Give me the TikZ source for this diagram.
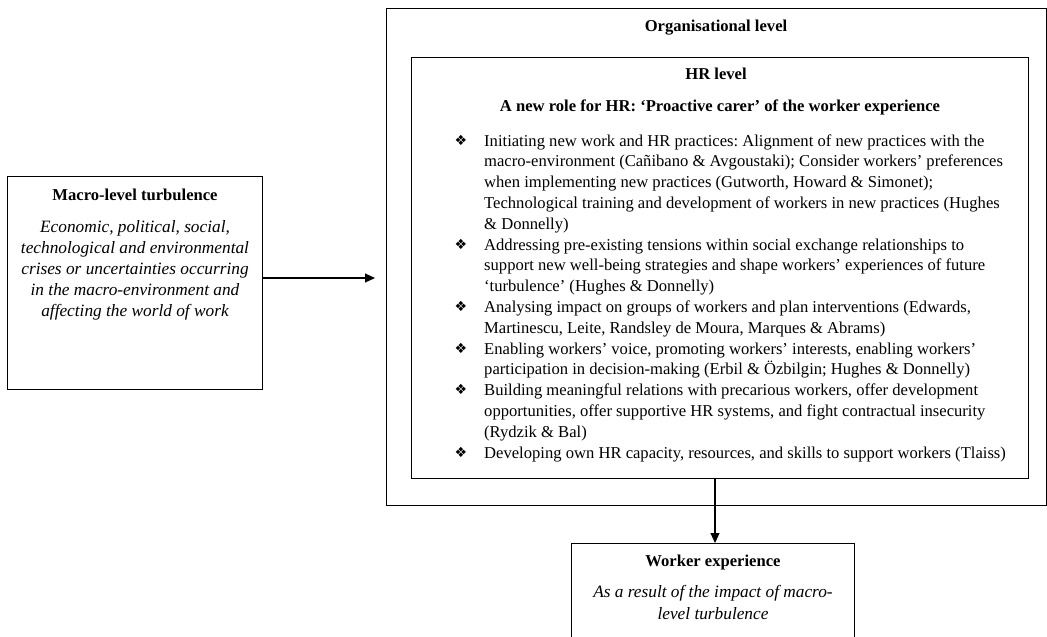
\documentclass[tikz,border=0pt]{standalone}
\usepackage{fontspec}
\setmainfont{Liberation Serif}
\newfontfamily\symfont{DejaVu Sans}
\usetikzlibrary{arrows.meta}
\frenchspacing
\tikzset{
  box/.style={draw, line width=1.3pt, inner sep=0pt, anchor=north west},
  conn/.style={line width=1.1pt, -{Triangle[length=10pt,width=9pt]}},
  txt/.style={inner sep=0pt, font=\fontsize{16.6pt}{20.8pt}\selectfont},
  ttl/.style={txt, font=\fontsize{16.6pt}{20.8pt}\selectfont\bfseries},
  itx/.style={txt, font=\fontsize{17.3pt}{21pt}\selectfont\itshape, align=center},
  bul/.style={inner sep=0pt, font=\fontsize{14pt}{14pt}\symfont},
}
\newcommand{\itemlines}[1]{\parbox[t]{580pt}{\raggedright\fontsize{16.6pt}{20.8pt}\selectfont #1}}
\begin{document}
\begin{tikzpicture}[x=1pt,y=-1pt]
\clip (0,0) rectangle (1047,637);
% boxes
\node[box, minimum width=660pt, minimum height=497pt] (org) at (386,8) {};
\node[box, minimum width=617pt, minimum height=421pt] (hr) at (411,57) {};
\node[box, minimum width=255pt, minimum height=213pt] (macro) at (7,176) {};
\node[box, minimum width=283pt, minimum height=120pt] (worker) at (571,543) {};
% titles
\node[ttl, anchor=base] (orgt) at (716,31) {Organisational level};
\node[ttl, anchor=base] (hrt) at (716,79) {HR level};
\node[ttl, anchor=base] (role) at (720,111) {A new role for HR: ‘Proactive carer’ of the worker experience};
% macro text
\node[ttl, anchor=base] (macrot) at (135,200) {Macro-level turbulence};
\node[itx, anchor=base] (m1) at (135,232) {Economic, political, social,};
\node[itx, anchor=base] (m2) at (135,253) {technological and environmental};
\node[itx, anchor=base] (m3) at (135,274) {crises or uncertainties occurring};
\node[itx, anchor=base] (m4) at (135,295) {in the macro-environment and};
\node[itx, anchor=base] (m5) at (135,316) {affecting the world of work};
% worker text
\node[ttl, anchor=base] (workert) at (713,566) {Worker experience};
\node[itx, anchor=base] (w1) at (713,597) {As a result of the impact of macro-};
\node[itx, anchor=base] (w2) at (713,619) {level turbulence};
% bullets
\foreach \k/\n in {0/b1,5/b2,8/b3,10/b4,12/b5,15/b6}{
  \node[bul, anchor=base] (\n) at (461,{145+20.8*\k}) {❖};
}
\node[txt, anchor=base west] (i1) at (484,146) {\itemlines{Initiating new work and HR practices: Alignment of new practices with the\\
macro-environment (Cañibano \& Avgoustaki); Consider workers’ preferences\\
when implementing new practices (Gutworth, Howard \& Simonet);\\
Technological training and development of workers in new practices (Hughes\\
\& Donnelly)}};
\node[txt, anchor=base west] (i2) at (484,{146+20.8*5}) {\itemlines{Addressing pre-existing tensions within social exchange relationships to\\
support new well-being strategies and shape workers’ experiences of future\\
‘turbulence’ (Hughes \& Donnelly)}};
\node[txt, anchor=base west] (i3) at (484,{146+20.8*8}) {\itemlines{Analysing impact on groups of workers and plan interventions (Edwards,\\
Martinescu, Leite, Randsley de Moura, Marques \& Abrams)}};
\node[txt, anchor=base west] (i4) at (484,{146+20.8*10}) {\itemlines{Enabling workers’ voice, promoting workers’ interests, enabling workers’\\
participation in decision-making (Erbil \& Özbilgin; Hughes \& Donnelly)}};
\node[txt, anchor=base west] (i5) at (484,{146+20.8*12}) {\itemlines{Building meaningful relations with precarious workers, offer development\\
opportunities, offer supportive HR systems, and fight contractual insecurity\\
(Rydzik \& Bal)}};
\node[txt, anchor=base west] (i6) at (484,{146+20.8*15}) {\itemlines{Developing own HR capacity, resources, and skills to support workers (Tlaiss)}};
% connectors
\coordinate (a1) at (375,278);
\draw[conn] (macro.east |- a1) -- (a1);
\coordinate (a2) at (715,500);
\draw[conn] (hr.south -| a2) -- (worker.north -| a2);
\end{tikzpicture}
\end{document}
